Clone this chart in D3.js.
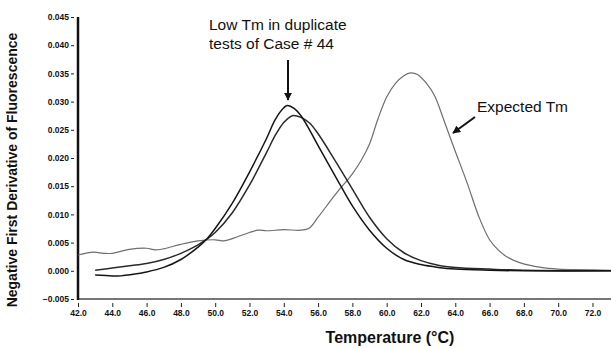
<!DOCTYPE html>
<html>
<head>
<meta charset="utf-8">
<script src="https://cdn.jsdelivr.net/npm/d3@7"></script>
<style>
  body { margin: 0; background: #fff; }
  svg { display: block; font-family: "Liberation Sans", Arial, sans-serif; }
</style>
</head>
<body>
<div id="chart"></div>
<script>
// Données
const xTicks = [42, 44, 46, 48, 50, 52, 54, 56, 58, 60, 62, 64, 66, 68, 70, 72];
const yTicks = [-0.005, 0, 0.005, 0.010, 0.015, 0.020, 0.025, 0.030, 0.035, 0.040, 0.045];

// Courbe attendue (grise)
const tempExpected = [42, 42.9, 43.5, 44, 45, 46, 46.5, 47, 48, 49, 50, 50.5, 51, 52, 52.5, 53, 54, 55, 55.5, 56, 57, 58, 58.5, 59, 59.5, 60, 60.5, 61, 61.4, 61.8, 62.3, 62.8, 63.3, 63.9, 64.7, 65.4, 66, 66.5, 67, 67.8, 69, 70, 71, 73.1];
const valExpected = [0.0028, 0.0033, 0.0031, 0.0031, 0.0038, 0.0040, 0.0037, 0.0039, 0.0047, 0.0053, 0.0055, 0.0053, 0.0057, 0.0068, 0.0072, 0.0071, 0.0073, 0.0072, 0.0076, 0.0095, 0.0135, 0.0172, 0.0195, 0.0225, 0.027, 0.0308, 0.0332, 0.0346, 0.0351, 0.0348, 0.0333, 0.031, 0.027, 0.022, 0.0155, 0.0094, 0.0055, 0.0037, 0.0025, 0.0014, 0.0006, 0.0003, 0.0002, 0.0001];

// Cas 44, essai 1
const tempCaseA = [43, 44, 44.5, 45, 46, 47, 48, 49, 49.5, 50, 51, 52, 53, 53.5, 54, 54.2, 54.6, 55, 55.5, 56, 57, 58, 59, 60, 61, 62, 63, 64, 66, 68, 73.1];
const valCaseA = [-0.00075, -0.0009, -0.0009, -0.0007, -0.0002, 0.0006, 0.002, 0.0042, 0.0056, 0.0075, 0.012, 0.0175, 0.0235, 0.0268, 0.0289, 0.0293, 0.0288, 0.0275, 0.025, 0.0222, 0.0168, 0.0115, 0.0072, 0.004, 0.002, 0.0011, 0.0006, 0.0003, 0.0001, 0, 0];

// Cas 44, essai 2
const tempCaseB = [43, 44, 45, 46, 47, 48, 49, 49.5, 50, 51, 52, 53, 53.5, 54, 54.5, 55, 55.5, 56, 57, 58, 59, 60, 61, 62, 63, 64, 66, 68, 73.1];
const valCaseB = [0.0001, 0.0005, 0.0009, 0.0013, 0.002, 0.0031, 0.0046, 0.0056, 0.0068, 0.0103, 0.0152, 0.021, 0.024, 0.0263, 0.0275, 0.0272, 0.0262, 0.0243, 0.0195, 0.0145, 0.0095, 0.0057, 0.0032, 0.0018, 0.001, 0.0006, 0.0003, 0.0001, 0];

const W = 611, H = 348;
const svg = d3.select("#chart").append("svg")
    .attr("width", W).attr("height", H);

const x = d3.scaleLinear().domain([42, 73.08]).range([78, 611]);
const y = d3.scaleLinear().domain([-0.005, 0.045]).range([299, 17]);

// Axe X
const xAxis = svg.append("g")
    .attr("transform", `translate(0,${y(-0.005)})`)
    .call(d3.axisBottom(x).tickValues(xTicks).tickFormat(d3.format(".1f")).tickSizeOuter(0));
xAxis.select(".domain").remove();
xAxis.selectAll(".tick line").attr("y1", 4).attr("y2", 8).attr("stroke", "#222");
xAxis.selectAll(".tick text")
    .attr("y", 11).attr("font-size", "8.5px").attr("font-weight", "bold").attr("fill", "#111");
svg.append("line")
    .attr("x1", 78).attr("x2", W)
    .attr("y1", y(-0.005)).attr("y2", y(-0.005))
    .attr("stroke", "#777").attr("stroke-width", 2);

// Axe Y
const yAxis = svg.append("g")
    .attr("transform", `translate(${x(42)},0)`)
    .call(d3.axisLeft(y).tickValues(yTicks).tickFormat(d3.format(".3f")).tickSizeOuter(0));
yAxis.select(".domain").remove();
yAxis.selectAll(".tick line").attr("x1", -7).attr("x2", -4).attr("stroke", "#222");
yAxis.selectAll(".tick text")
    .attr("x", -9).attr("font-size", "8.5px").attr("font-weight", "bold").attr("fill", "#111");
svg.append("line")
    .attr("x1", x(42)).attr("x2", x(42))
    .attr("y1", y(0.045)).attr("y2", y(-0.005) + 1)
    .attr("stroke", "#111").attr("stroke-width", 2.5);

// Courbes
const line = d3.line()
    .x(d => x(d[0]))
    .y(d => y(d[1]))
    .curve(d3.curveCatmullRom);

const series = [
    { t: tempExpected, v: valExpected, color: "#6e6e6e", w: 1.2 },
    { t: tempCaseB, v: valCaseB, color: "#2a2a2a", w: 1.5 },
    { t: tempCaseA, v: valCaseA, color: "#151515", w: 1.5 }
];
series.forEach(s => {
    svg.append("path")
        .datum(s.t.map((t, i) => [t, s.v[i]]))
        .attr("d", line)
        .attr("fill", "none")
        .attr("stroke", s.color)
        .attr("stroke-width", s.w);
});

// Titres des axes
svg.append("text")
    .attr("transform", `translate(17,170) rotate(-90)`)
    .attr("text-anchor", "middle")
    .attr("font-size", "14px")
    .attr("font-weight", "bold")
    .attr("fill", "#111")
    .text("Negative First Derivative of Fluorescence");

svg.append("text")
    .attr("x", 390).attr("y", 343)
    .attr("text-anchor", "middle")
    .attr("font-size", "16px")
    .attr("font-weight", "bold")
    .attr("fill", "#111")
    .text("Temperature (°C)");

// Annotations
const defs = svg.append("defs");
defs.append("marker")
    .attr("id", "head")
    .attr("viewBox", "0 0 10 10")
    .attr("refX", 9).attr("refY", 5)
    .attr("markerWidth", 4).attr("markerHeight", 4)
    .attr("markerUnits", "strokeWidth")
    .attr("orient", "auto")
    .append("path")
    .attr("d", "M0,0 L10,5 L0,10 Z")
    .attr("fill", "#111");

const note = svg.append("text")
    .attr("font-size", "15.5px")
    .attr("fill", "#111");
note.append("tspan").attr("x", 209).attr("y", 30).text("Low Tm in duplicate");
note.append("tspan").attr("x", 209).attr("y", 49).text("tests of Case # 44");

svg.append("line")
    .attr("x1", 288).attr("y1", 60)
    .attr("x2", 288).attr("y2", 100)
    .attr("stroke", "#111").attr("stroke-width", 2)
    .attr("marker-end", "url(#head)");

svg.append("text")
    .attr("x", 477).attr("y", 112)
    .attr("font-size", "15.5px")
    .attr("fill", "#111")
    .text("Expected Tm");

svg.append("line")
    .attr("x1", 475).attr("y1", 117)
    .attr("x2", 453).attr("y2", 133)
    .attr("stroke", "#111").attr("stroke-width", 2)
    .attr("marker-end", "url(#head)");
</script>
</body>
</html>
